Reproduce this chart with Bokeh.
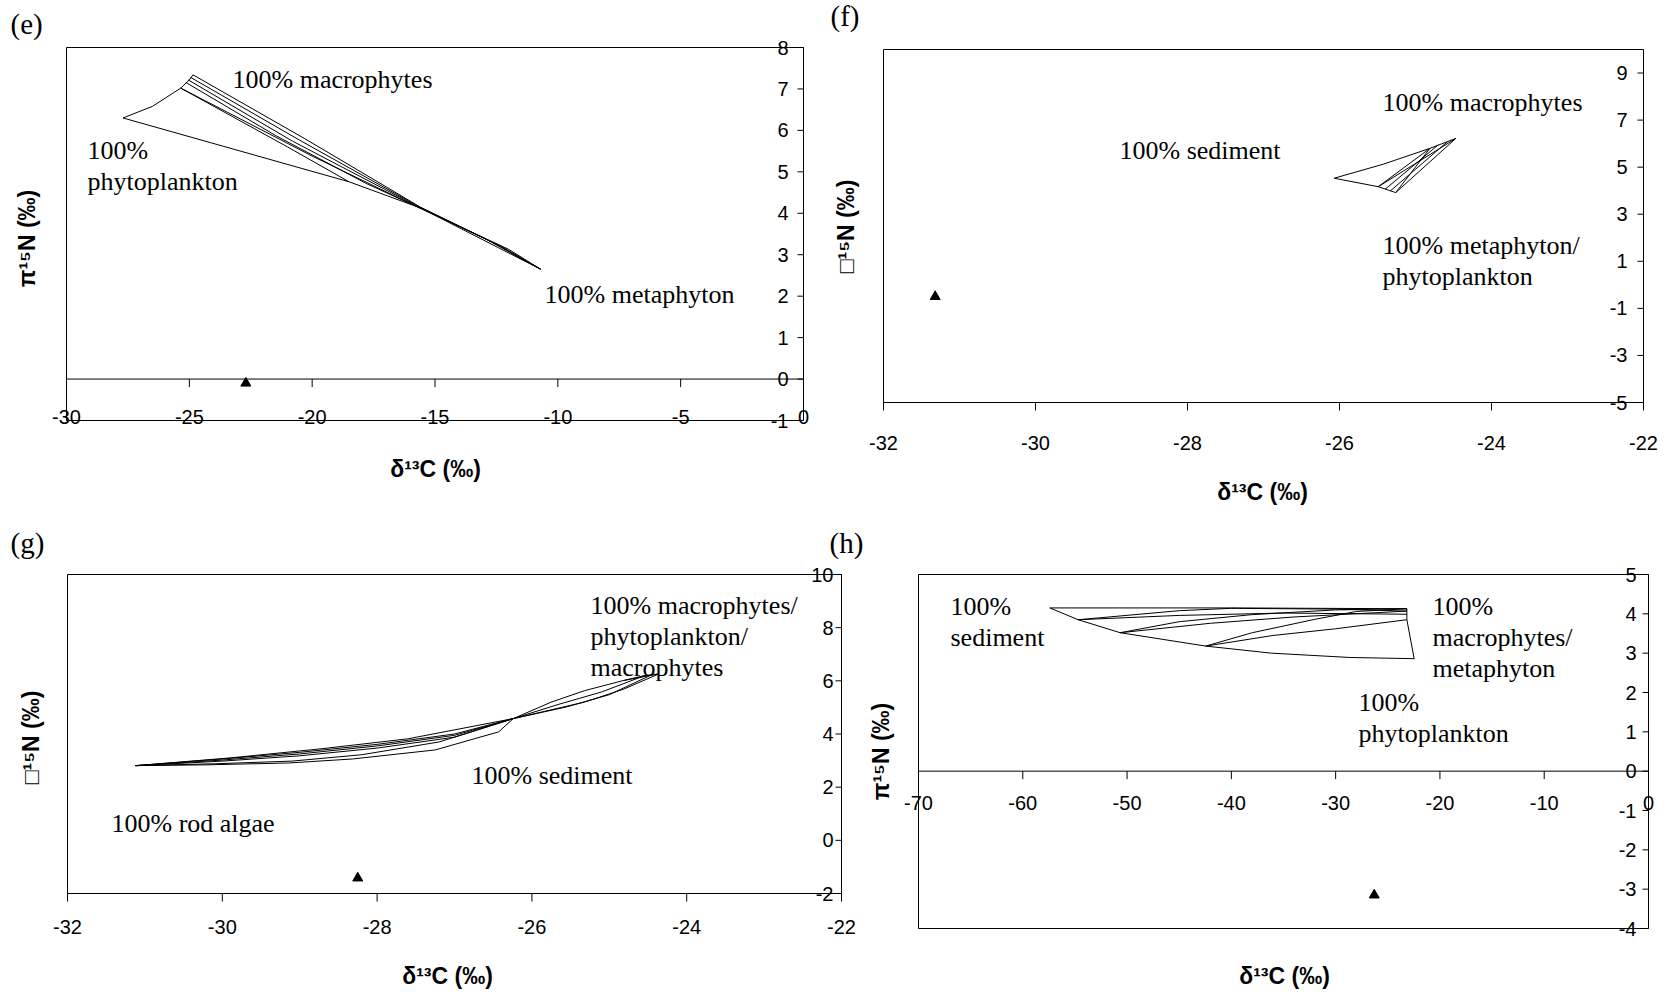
import numpy as np
from bokeh.plotting import figure
from bokeh.layouts import column, row
from bokeh.models import ColumnDataSource, Label, LabelSet, Range1d
from bokeh.core.properties import value
from bokeh.embed import file_html
from bokeh.resources import INLINE

SANS = "Liberation Sans"
SERIF = "Liberation Serif"
TICK_SIZE = "20px"
NOTE_SIZE = "26px"
TITLE_SIZE = "23px"
TAG_SIZE = "29px"

# ---------------- panel (e) ----------------
e_xlim = [-30, 0]
e_ylim = [-1, 8]
e_xticks = [-30, -25, -20, -15, -10, -5, 0]
e_xlabels = ["-30", "-25", "-20", "-15", "-10", "-5", "0"]
e_yticks = [-1, 0, 1, 2, 3, 4, 5, 6, 7, 8]
e_ylabels = ["-1", "0", "1", "2", "3", "4", "5", "6", "7", "8"]
e_lines_x = [
    [-27.7, -26.5, -25.35, -25.0, -24.85],
    [-27.7, -18.5, -15.6, -10.7],
    [-24.85, -20.3, -15.6, -13.0, -10.7],
    [-24.95, -20.5, -15.6, -12.6, -10.7],
    [-25.05, -20.8, -15.6, -12.3, -10.7],
    [-25.15, -21.5, -17.8, -15.6, -12.0, -10.7],
    [-25.35, -21.0, -18.5],
    [-25.35, -20.0, -15.6],
]
e_lines_y = [
    [6.30, 6.58, 7.02, 7.22, 7.34],
    [6.30, 4.76, 4.13, 2.65],
    [7.34, 5.80, 4.15, 3.40, 2.65],
    [7.28, 5.76, 4.14, 3.28, 2.65],
    [7.22, 5.74, 4.13, 3.20, 2.65],
    [7.16, 5.88, 4.72, 4.12, 3.13, 2.65],
    [7.02, 5.60, 4.76],
    [7.02, 5.38, 4.12],
]
e_obs_x = [-22.7]
e_obs_y = [-0.1]

# ---------------- panel (f) ----------------
f_xlim = [-32, -22]
f_ylim = [-5, 10]
f_xticks = [-32, -30, -28, -26, -24, -22]
f_xlabels = ["-32", "-30", "-28", "-26", "-24", "-22"]
f_yticks = [-5, -3, -1, 1, 3, 5, 7, 9]
f_ylabels = ["-5", "-3", "-1", "1", "3", "5", "7", "9"]
f_lines_x = [
    [-26.07, -25.42, -24.81, -24.47],
    [-26.07, -25.49, -25.26],
    [-25.49, -24.81],
    [-25.40, -24.70],
    [-25.33, -24.58],
    [-25.26, -24.47],
    [-25.49, -24.47],
    [-25.26, -24.81],
]
f_lines_y = [
    [4.53, 5.13, 5.80, 6.22],
    [4.53, 4.17, 3.92],
    [4.17, 5.80],
    [4.06, 5.95],
    [3.99, 6.08],
    [3.92, 6.22],
    [4.17, 6.22],
    [3.92, 5.80],
]
f_obs_x = [-31.32]
f_obs_y = [-0.5]

# ---------------- panel (g) ----------------
g_xlim = [-32, -22]
g_ylim = [-2, 10]
g_xticks = [-32, -30, -28, -26, -24, -22]
g_xlabels = ["-32", "-30", "-28", "-26", "-24", "-22"]
g_yticks = [-2, 0, 2, 4, 6, 8, 10]
g_ylabels = ["-2", "0", "2", "4", "6", "8", "10"]
g_lines_x = [
    [-31.12, -30.20, -29.14, -28.32, -27.25, -26.43, -26.24],
    [-31.12, -30.10, -29.10, -28.20, -27.20, -26.24],
    [-31.12, -30.00, -29.00, -28.00, -27.00, -26.24],
    [-31.12, -30.00, -29.00, -28.00, -27.00, -26.24],
    [-31.12, -30.00, -29.00, -28.00, -27.00, -26.24],
    [-31.12, -29.90, -28.70, -27.60, -26.24],
    [-26.24, -25.75, -25.32, -24.82, -24.36],
    [-26.24, -25.65, -25.10, -24.54],
    [-26.24, -25.55, -25.00, -24.45],
    [-26.24, -25.32, -24.82, -24.36],
    [-24.82, -24.54, -24.36],
]
g_lines_y = [
    [2.81, 2.84, 2.91, 3.06, 3.40, 4.08, 4.58],
    [2.81, 2.88, 2.98, 3.22, 3.70, 4.58],
    [2.81, 2.98, 3.18, 3.47, 3.88, 4.58],
    [2.81, 3.02, 3.25, 3.55, 3.95, 4.58],
    [2.81, 3.06, 3.31, 3.61, 4.00, 4.58],
    [2.81, 3.10, 3.45, 3.82, 4.58],
    [4.58, 5.20, 5.63, 6.01, 6.26],
    [4.58, 5.12, 5.58, 6.20],
    [4.58, 5.02, 5.48, 6.23],
    [4.58, 5.20, 5.68, 6.26],
    [6.01, 6.20, 6.26],
]
g_obs_x = [-28.25]
g_obs_y = [-1.42]

# ---------------- panel (h) ----------------
h_xlim = [-70, 0]
h_ylim = [-4, 5]
h_xticks = [-70, -60, -50, -40, -30, -20, -10, 0]
h_xlabels = ["-70", "-60", "-50", "-40", "-30", "-20", "-10", "0"]
h_yticks = [-4, -3, -2, -1, 0, 1, 2, 3, 4, 5]
h_ylabels = ["-4", "-3", "-2", "-1", "0", "1", "2", "3", "4", "5"]
h_lines_x = [
    [-57.41, -40.0, -23.17],
    [-57.41, -54.69, -50.66, -42.46, -36.16, -28.61, -22.47],
    [-23.17, -23.17, -22.47],
    [-54.69, -45.0, -40.0, -30.0, -23.17],
    [-54.69, -45.0, -35.0, -23.17],
    [-50.66, -45.0, -38.0, -30.0, -23.17],
    [-50.66, -42.0, -34.0, -23.17],
    [-42.46, -38.0, -32.0, -28.0, -23.17],
    [-42.46, -36.0, -30.0, -23.17],
]
h_lines_y = [
    [4.15, 4.15, 4.13],
    [4.15, 3.85, 3.52, 3.18, 3.00, 2.89, 2.86],
    [4.13, 3.85, 2.86],
    [3.85, 4.08, 4.14, 4.12, 4.07],
    [3.85, 3.96, 4.02, 3.99],
    [3.52, 3.80, 3.98, 4.10, 4.13],
    [3.52, 3.76, 3.92, 4.07],
    [3.18, 3.52, 3.86, 4.06, 4.13],
    [3.18, 3.45, 3.62, 3.85],
]
h_obs_x = [-26.3]
h_obs_y = [-3.15]

X_TITLE = "δ¹³C (‰)"


def make_panel(width, height, box, xlim, ylim, xticks, xlabels, yticks, ylabels,
               lines_x, lines_y, obs_x, obs_y, axis_at_zero, label_drop,
               label_gap, ytitle, ytitle_pos, xtitle_pos, notes, tags):
    """box = (left, top, right, bottom) of the plot area in canvas pixels.

    The Bokeh frame fills the whole canvas so that tick labels, titles and
    notes sitting around the plot area are not clipped; the ranges are
    widened so that the axis limits land on the plot-area box.
    """
    bl, bt, br, bb = box
    x0, x1 = xlim
    y0, y1 = ylim
    sx = (br - bl) / (x1 - x0)
    sy = (bb - bt) / (y1 - y0)
    xr = Range1d(x0 - bl / sx, x1 + (width - br) / sx)
    yr = Range1d(y0 - (height - bb) / sy, y1 + bt / sy)

    p = figure(width=width, height=height, x_range=xr, y_range=yr,
               x_axis_location=None, y_axis_location=None,
               toolbar_location=None, output_backend="svg",
               min_border=0)
    p.grid.grid_line_color = None
    p.outline_line_color = None
    p.background_fill_color = "white"
    p.border_fill_color = "white"

    # plot-area box spanning the axis limits
    p.quad(left=[x0], right=[x1], bottom=[y0], top=[y1],
           fill_color=None, line_color="black", line_width=1)

    # mixing-space lines and the consumer
    p.multi_line(xs=lines_x, ys=lines_y, line_color="black", line_width=1)
    p.scatter(obs_x, obs_y, marker="triangle", size=10,
              fill_color="black", line_color="black")

    # value axis on the right edge, ticks pointing into the plot
    ny = len(yticks)
    p.ray(x=[x1] * ny, y=yticks, length=6, length_units="screen",
          angle=np.pi, line_color="black", line_width=1)
    ysrc = ColumnDataSource(dict(x=[x1] * ny, y=yticks, t=ylabels))
    p.add_layout(LabelSet(x="x", y="y", text="t", source=ysrc,
                          x_offset=-label_gap, text_align="right",
                          text_baseline="middle", text_font=value(SANS),
                          text_font_size=value(TICK_SIZE), text_color="black"))

    # category axis: crosses at zero or runs along the bottom of the box
    nx = len(xticks)
    y_cross = 0 if axis_at_zero else y0
    if axis_at_zero:
        p.segment(x0=[x0], x1=[x1], y0=[0], y1=[0],
                  line_color="black", line_width=1)
    p.ray(x=xticks, y=[y_cross] * nx, length=8, length_units="screen",
          angle=-np.pi / 2, line_color="black", line_width=1)
    xsrc = ColumnDataSource(dict(x=xticks, y=[y_cross] * nx, t=xlabels))
    p.add_layout(LabelSet(x="x", y="y", text="t", source=xsrc,
                          y_offset=-label_drop, text_align="center",
                          text_baseline="middle", text_font=value(SANS),
                          text_font_size=value(TICK_SIZE), text_color="black"))

    def put(text, cx, cy, font, size, bold=False, align="left", angle=0.0):
        p.add_layout(Label(x=x0, y=y1, x_offset=cx - bl, y_offset=bt - cy,
                           text=text, text_font=font, text_font_size=size,
                           text_font_style="bold" if bold else "normal",
                           text_color="black", text_align=align,
                           text_baseline="middle", angle=angle))

    put(ytitle, ytitle_pos[0], ytitle_pos[1], SANS, TITLE_SIZE, bold=True,
        align="center", angle=np.pi / 2)
    put(X_TITLE, xtitle_pos[0], xtitle_pos[1], SANS, TITLE_SIZE, bold=True,
        align="center")
    for text, lx, cy in notes:
        put(text, lx, cy, SERIF, NOTE_SIZE)
    for text, lx, cy in tags:
        put(text, lx, cy, SERIF, TAG_SIZE)
    return p


pe = make_panel(820, 505, (66, 47, 803, 420), e_xlim, e_ylim,
                e_xticks, e_xlabels, e_yticks, e_ylabels,
                e_lines_x, e_lines_y, e_obs_x, e_obs_y, True, 38, 15,
                "π¹⁵N (‰)", (26, 238), (435, 468),
                [("100% macrophytes", 232, 79), ("100%", 87, 150),
                 ("phytoplankton", 87, 181), ("100% metaphyton", 544, 294)],
                [("(e)", 10, 23)])

pf = make_panel(855, 505, (63, 49, 823, 402), f_xlim, f_ylim,
                f_xticks, f_xlabels, f_yticks, f_ylabels,
                f_lines_x, f_lines_y, f_obs_x, f_obs_y, False, 40, 16,
                "□¹⁵N (‰)", (25, 226), (442, 491),
                [("100% macrophytes", 562, 102), ("100% sediment", 299, 150),
                 ("100% metaphyton/", 562, 245), ("phytoplankton", 562, 276)],
                [("(f)", 10, 15)])

pg = make_panel(866, 487, (67, 69, 841, 388), g_xlim, g_ylim,
                g_xticks, g_xlabels, g_yticks, g_ylabels,
                g_lines_x, g_lines_y, g_obs_x, g_obs_y, False, 33, 8,
                "□¹⁵N (‰)", (30, 232), (447, 470),
                [("100% macrophytes/", 590, 100), ("phytoplankton/", 590, 131),
                 ("macrophytes", 590, 162), ("100% sediment", 471, 270),
                 ("100% rod algae", 111, 318)],
                [("(g)", 10, 37), ("(h)", 829, 37)])

ph = make_panel(809, 487, (52, 69, 782, 423), h_xlim, h_ylim,
                h_xticks, h_xlabels, h_yticks, h_ylabels,
                h_lines_x, h_lines_y, h_obs_x, h_obs_y, True, 32, 12,
                "π¹⁵N (‰)", (14, 246), (418, 470),
                [("100%", 84, 101), ("sediment", 84, 132),
                 ("100%", 566, 101), ("macrophytes/", 566, 132),
                 ("metaphyton", 566, 163), ("100%", 492, 197),
                 ("phytoplankton", 492, 228)],
                [])

layout = column(row(pe, pf), row(pg, ph))
open("out.html", "w").write(file_html(layout, INLINE))
